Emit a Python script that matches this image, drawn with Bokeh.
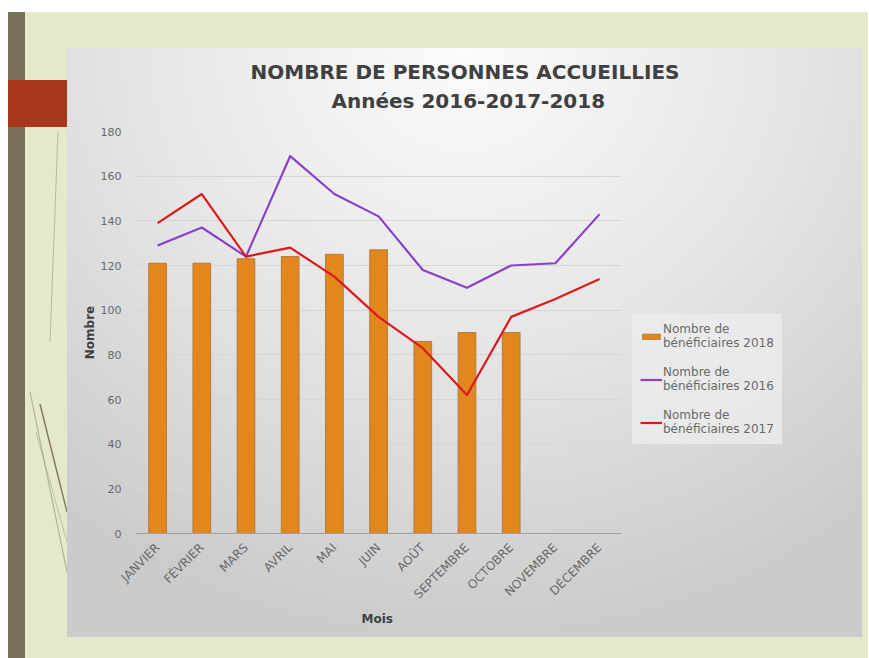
from math import pi
from bokeh.plotting import figure
from bokeh.models import FixedTicker, Legend, LegendItem, Title, Div, Range1d
from bokeh.layouts import row
from bokeh.embed import file_html
from bokeh.resources import INLINE

# ---- data -------------------------------------------------------------
months = ["JANVIER", "FÉVRIER", "MARS", "AVRIL", "MAI", "JUIN", "AOÛT",
          "SEPTEMBRE", "OCTOBRE", "NOVEMBRE", "DÉCEMBRE"]
benef_2018 = [121, 121, 123, 124, 125, 127, 86, 90, 90]   # janvier..octobre
benef_2016 = [129, 137, 124, 169, 152, 142, 118, 110, 120, 121, 143]
benef_2017 = [139, 152, 124, 128, 115, 97, 83, 62, 97, 105, 114]
y_ticks = [0, 20, 40, 60, 80, 100, 120, 140, 160, 180]

label_2018 = "Nombre de\nbénéficiaires 2018"
label_2016 = "Nombre de\nbénéficiaires 2016"
label_2017 = "Nombre de\nbénéficiaires 2017"
title_1 = "NOMBRE DE PERSONNES ACCUEILLIES"
title_2 = "Années 2016-2017-2018"
x_title = "Mois"
y_title = "Nombre"

# category positions (1..n) on a numeric axis labelled with the month names
pos = list(range(1, len(months) + 1))
pos_2018 = pos[:len(benef_2018)]
n = len(months)

FONT = "DejaVu Sans"
TXT = "#6a6a6a"

p = figure(width=795, height=589, x_range=Range1d(0.5, n + 4.5), y_range=(0, 180),
           output_backend="svg", toolbar_location=None,
           min_border_left=68, min_border_right=64,
           min_border_top=83, min_border_bottom=104,
           margin=(36, 6, 20, 0))
p.background_fill_alpha = 0
p.border_fill_alpha = 0
p.outline_line_color = None
p.styles = {"background": "radial-gradient(ellipse 80% 100% at 50% 0%, #fbfbfb 0%, #e6e6e6 50%, #cbcbcb 100%)"}

bars = p.vbar(x=pos_2018, top=benef_2018, width=0.4,
              fill_color="#E2871E", line_color="#b77a3a", line_width=1)
l16 = p.line(x=pos, y=benef_2016, line_color="#8b40c8", line_width=2.2,
             line_join="round")
l17 = p.line(x=pos, y=benef_2017, line_color="#dc1a1a", line_width=2.2,
             line_join="round")

legend = Legend(items=[LegendItem(label=label_2018, renderers=[bars]),
                       LegendItem(label=label_2016, renderers=[l16]),
                       LegendItem(label=label_2017, renderers=[l17])],
                location=(497, 89), orientation="vertical")
legend.label_text_font = FONT
legend.label_text_font_size = "12px"
legend.label_text_color = TXT
legend.label_text_line_height = 1.5
legend.glyph_width = 22
legend.glyph_height = 7
legend.label_standoff = 1
legend.spacing = 15
legend.padding = 8
legend.background_fill_color = "#ececec"
legend.background_fill_alpha = 0.8
legend.border_line_alpha = 0
p.add_layout(legend)

spacer = Title(text=" ", text_font_size="10px", standoff=4)
p.add_layout(spacer, "above")
t2 = Title(text=title_2, align="left", offset=196, standoff=3, text_font=FONT,
           text_font_size="20px", text_font_style="bold", text_color="#404040")
p.add_layout(t2, "above")
t1 = Title(text=title_1, align="left", offset=115, standoff=3, text_font=FONT,
           text_font_size="20px", text_font_style="bold", text_color="#404040")
p.add_layout(t1, "above")

p.yaxis.ticker = FixedTicker(ticks=y_ticks)
p.yaxis.axis_line_color = None
p.yaxis.major_tick_line_color = None
p.yaxis.minor_tick_line_color = None
p.yaxis.major_label_text_font = FONT
p.yaxis.major_label_text_font_size = "11px"
p.yaxis.major_label_text_color = TXT
p.yaxis.major_label_standoff = 8
p.yaxis.axis_label = y_title
p.yaxis.axis_label_text_font = FONT
p.yaxis.axis_label_text_font_size = "12px"
p.yaxis.axis_label_text_font_style = "bold"
p.yaxis.axis_label_text_color = "#404040"
p.yaxis.axis_label_standoff = 1

p.xaxis.ticker = FixedTicker(ticks=pos)
p.xaxis.major_label_overrides = {k: m for k, m in zip(pos, months)}
p.xaxis.bounds = (0.5, n + 0.5)
p.xaxis.axis_line_color = "#a0a0a0"
p.xaxis.axis_line_width = 1.2
p.xaxis.major_tick_line_color = None
p.xaxis.minor_tick_line_color = None
p.xaxis.major_label_orientation = pi / 4
p.xaxis.major_label_text_font = FONT
p.xaxis.major_label_text_font_size = "12px"
p.xaxis.major_label_text_color = TXT
p.xaxis.major_label_standoff = 6

# x-axis title, centred under the month axis (not under the whole frame)
xt = Title(text=x_title, align="left", offset=226, standoff=0, text_font=FONT,
           text_font_size="12px", text_font_style="bold", text_color="#404040")
p.add_layout(xt, "below")

p.xgrid.grid_line_color = None
p.ygrid.grid_line_color = "#d6d6d6"
p.ygrid.grid_line_width = 1
p.ygrid.cross_bounds = (0.5, n + 0.5)

deco = """
<div style="position:relative;width:59px;height:646px;overflow:hidden;">
<svg width="59" height="646" style="position:absolute;left:0;top:0">
<line x1="50" y1="120" x2="42" y2="330" stroke="#9a9a80" stroke-width="1" opacity="0.6"/>
<line x1="22" y1="380" x2="59" y2="560" stroke="#8a7d5c" stroke-width="1.2" opacity="0.5"/>
<line x1="32" y1="392" x2="59" y2="500" stroke="#6f6248" stroke-width="1.5" opacity="0.8"/>
<line x1="28" y1="420" x2="59" y2="530" stroke="#a8a68a" stroke-width="1" opacity="0.6"/>
</svg>
<div style="position:absolute;left:0;top:0;width:17px;height:646px;background:#79705a"></div>
<div style="position:absolute;left:0;top:68px;width:59px;height:47px;background:#a9361a"></div>
</div>
"""
div = Div(text=deco, width=59, height=646, margin=0)

layout = row(div, p, styles={"background-color": "#e4e9cc"}, margin=(12, 0, 0, 8))

with open("out.html", "w") as f:
    f.write(file_html(layout, INLINE))
